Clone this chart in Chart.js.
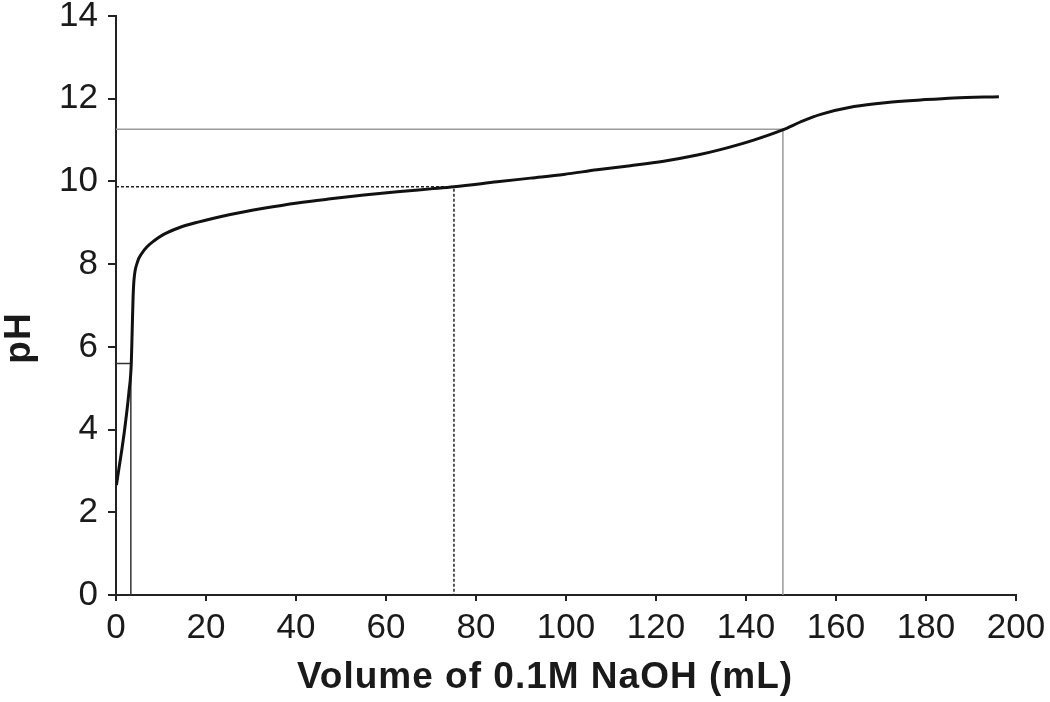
<!DOCTYPE html>
<html>
<head>
<meta charset="utf-8">
<script src="https://cdn.jsdelivr.net/npm/chart.js@4/dist/chart.umd.min.js"></script>
<style>
  html, body { margin: 0; padding: 0; background: #ffffff; }
  #wrap { width: 1050px; height: 702px; }
</style>
</head>
<body>
<div id="wrap"><canvas id="c" width="1050" height="702"></canvas></div>
<script>
// Titration curve: volume of 0.1M NaOH (mL) vs pH
const volume = [0.1, 0.6, 1.4, 2.1, 2.85, 3.4, 3.6, 3.8, 4.0, 4.7, 5.8, 6.9, 8.4, 10.6, 14.0, 18.0, 25.4, 32.8, 40.3, 47.7, 55.1, 62.5, 69.9, 75.1, 84.7, 92.1, 99.5, 106.9, 114.3, 121.7, 129.2, 134.3, 141.7, 148.0, 152.8, 156.6, 164.0, 171.4, 178.8, 186.2, 196.2];
const pH     = [2.66, 3.02, 3.59, 4.16, 4.88, 5.61, 6.41, 7.21, 7.62, 8.03, 8.27, 8.42, 8.56, 8.72, 8.88, 9.01, 9.20, 9.35, 9.48, 9.58, 9.67, 9.75, 9.82, 9.87, 9.99, 10.08, 10.17, 10.28, 10.38, 10.49, 10.64, 10.77, 11.00, 11.24, 11.47, 11.62, 11.81, 11.91, 11.97, 12.02, 12.05];

// Guide lines (first equivalence point, half-equivalence, second equivalence)
const eq1X   = [0, 3.3, 3.3];
const eq1Y   = [5.6, 5.6, 0];
const halfX  = [0, 75.1, 75.1];
const halfY  = [9.87, 9.87, 0];
const eq2X   = [0, 148.2, 148.2];
const eq2Y   = [11.26, 11.26, 0];

const xTicks = [0, 20, 40, 60, 80, 100, 120, 140, 160, 180, 200];
const yTicks = [0, 2, 4, 6, 8, 10, 12, 14];

const xTitle = 'Volume of 0.1M NaOH (mL)';
const yTitle = 'pH';

const toPts = (xs, ys) => xs.map((x, i) => ({ x: x, y: ys[i] }));

const axisTitles = {
  id: 'axisTitles',
  afterDraw(chart) {
    const ctx = chart.ctx;
    ctx.save();
    ctx.fillStyle = '#1a1a1a';
    ctx.font = 'bold 37px "Liberation Sans", Arial, sans-serif';
    ctx.textAlign = 'center';
    ctx.textBaseline = 'alphabetic';
    try { ctx.letterSpacing = '1px'; } catch (e) {}
    ctx.fillText(xTitle, 545, 688);
    ctx.translate(30, 338);
    ctx.rotate(-Math.PI / 2);
    ctx.fillText(yTitle, 0, 0);
    ctx.restore();
  }
};

const guide = (xs, ys, color, width, dash) => ({
  data: toPts(xs, ys),
  borderColor: color,
  borderWidth: width,
  borderDash: dash,
  pointRadius: 0,
  tension: 0,
  fill: false
});

new Chart(document.getElementById('c'), {
  type: 'line',
  data: {
    datasets: [
      {
        data: toPts(volume, pH),
        borderColor: '#111111',
        borderWidth: 3,
        pointRadius: 0,
        cubicInterpolationMode: 'monotone',
        fill: false
      },
      guide(eq1X, eq1Y, '#333333', 1.5, []),
      guide(halfX, halfY, '#222222', 1.5, [3, 2]),
      guide(eq2X, eq2Y, '#9a9a9a', 1.5, [])
    ]
  },
  plugins: [axisTitles],
  options: {
    responsive: false,
    animation: false,
    devicePixelRatio: 1,
    layout: { padding: { top: 16, right: 34, left: 0, bottom: 0 } },
    plugins: { legend: { display: false }, tooltip: { enabled: false } },
    scales: {
      x: {
        type: 'linear',
        min: 0, max: 200,
        afterBuildTicks: (s) => { s.ticks = xTicks.map(v => ({ value: v })); },
        afterFit: (s) => { s.height = 107; s.paddingLeft = 0; s.paddingRight = 0; },
        grid: { drawOnChartArea: false, drawTicks: true, tickLength: 6, color: '#222', lineWidth: 2 },
        border: { display: true, color: '#222', width: 2 },
        ticks: { color: '#1a1a1a', font: { family: '"Liberation Sans", Arial, sans-serif', size: 35 }, padding: 6, maxRotation: 0, autoSkip: false }
      },
      y: {
        type: 'linear',
        min: 0, max: 14,
        afterBuildTicks: (s) => { s.ticks = yTicks.map(v => ({ value: v })); },
        afterFit: (s) => { s.width = 116; s.paddingTop = 0; s.paddingBottom = 0; },
        grid: { drawOnChartArea: false, drawTicks: true, tickLength: 8, color: '#222', lineWidth: 2 },
        border: { display: true, color: '#222', width: 2 },
        ticks: { color: '#1a1a1a', font: { family: '"Liberation Sans", Arial, sans-serif', size: 35 }, padding: 10, autoSkip: false }
      }
    }
  }
});
</script>
</body>
</html>
